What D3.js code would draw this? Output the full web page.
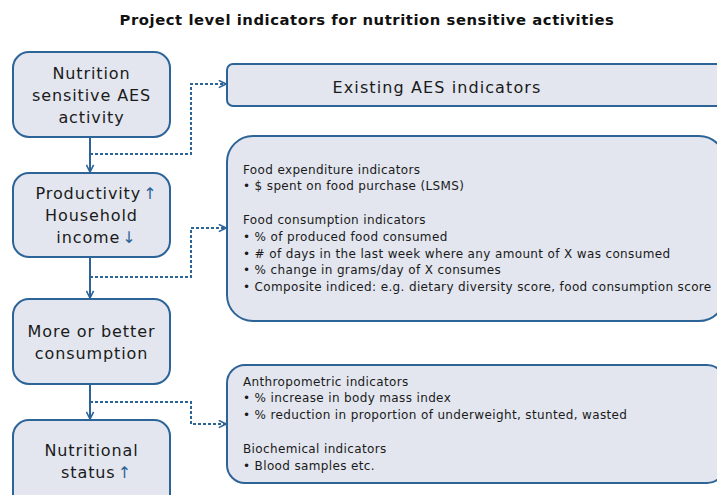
<!DOCTYPE html>
<html>
<head>
<meta charset="utf-8">
<script src="https://cdn.jsdelivr.net/npm/d3@7"></script>
<style>
  html, body { margin: 0; padding: 0; background: #fff; }
  svg { display: block; }
</style>
</head>
<body>
<svg id="chart" width="717" height="495"></svg>
<script>
// ---- Data ----
const title = "Project level indicators for nutrition sensitive activities";

// Left-column chain of stages (each line: [text, arrow symbol or ""])
const stages = [
  [["Nutrition", ""], ["sensitive AES", ""], ["activity", ""]],
  [["Productivity", "↑"], ["Household", ""], ["income", "↓"]],
  [["More or better", ""], ["consumption", ""]],
  [["Nutritional", ""], ["status", "↑"]]
];

// Right-column indicator boxes
const existingLabel = "Existing AES indicators";

const consumptionLines = [
  "Food expenditure indicators",
  "• $ spent on food purchase (LSMS)",
  "",
  "Food consumption indicators",
  "• % of produced food consumed",
  "• # of days in the last week where any amount of X was consumed",
  "• % change in grams/day of X consumes",
  "• Composite indiced: e.g. dietary diversity score, food consumption score"
];

const statusLines = [
  "Anthropometric indicators",
  "• % increase in body mass index",
  "• % reduction in proportion of underweight, stunted, wasted",
  "",
  "Biochemical indicators",
  "• Blood samples etc."
];

// ---- Layout / style ----
const stroke = "#2d6497";
const fill = "#e3e6ef";
const font = "'DejaVu Sans', sans-serif";

const svg = d3.select("#chart");

const defs = svg.append("defs");
defs.append("marker")
  .attr("id", "chev")
  .attr("viewBox", "0 0 10 10")
  .attr("refX", 9).attr("refY", 5)
  .attr("markerWidth", 9).attr("markerHeight", 9)
  .attr("markerUnits", "userSpaceOnUse")
  .attr("orient", "auto")
  .append("path")
  .attr("d", "M1,1 L9,5 L1,9")
  .attr("fill", "none")
  .attr("stroke", stroke)
  .attr("stroke-width", 1.8);

// title
svg.append("text")
  .attr("x", 367).attr("y", 25)
  .attr("text-anchor", "middle")
  .attr("font-family", font)
  .attr("font-weight", "bold")
  .attr("font-size", 14.8)
  .attr("letter-spacing", 0.55)
  .attr("fill", "#111")
  .text(title);

// left boxes geometry
const leftX = 13, leftW = 157;
const boxTops = [52, 173, 299, 420];
const boxBottoms = [137, 257, 384, 510];
const cx = 90;
const lineH = 22;

// vertical solid connectors
for (let i = 0; i < 3; i++) {
  svg.append("line")
    .attr("x1", cx).attr("x2", cx)
    .attr("y1", boxBottoms[i]).attr("y2", boxTops[i + 1] - 1)
    .attr("stroke", stroke).attr("stroke-width", 2)
    .attr("marker-end", "url(#chev)");
}

// boxes
stages.forEach((lines, i) => {
  const top = boxTops[i], bot = boxBottoms[i];
  svg.append("rect")
    .attr("x", leftX).attr("y", top)
    .attr("width", leftW).attr("height", bot - top)
    .attr("rx", 16).attr("ry", 16)
    .attr("fill", fill).attr("stroke", stroke).attr("stroke-width", 2);
  const mid = i === 3 ? 461 : (top + bot) / 2;
  const y0 = mid - (lines.length - 1) * lineH / 2;
  lines.forEach((ln, j) => {
    const t = svg.append("text")
      .attr("x", leftX + leftW / 2 + (ln[1] ? 5 : 0))
      .attr("y", y0 + j * lineH + 6)
      .attr("text-anchor", "middle")
      .attr("font-family", font)
      .attr("font-size", 16)
      .attr("letter-spacing", 0.9)
      .attr("fill", "#1a1a1a");
    t.append("tspan").text(ln[0]);
    if (ln[1]) {
      t.append("tspan").attr("fill", stroke).attr("dx", 2).text(ln[1]);
    }
  });
});

// right boxes
const rx = 227;
const rightBoxes = [
  { top: 64, bot: 106, r: 6 },
  { top: 136, bot: 321, r: 26 },
  { top: 365, bot: 483, r: 18 }
];
rightBoxes.forEach(b => {
  svg.append("rect")
    .attr("x", rx).attr("y", b.top)
    .attr("width", 725 - rx).attr("height", b.bot - b.top)
    .attr("rx", b.r).attr("ry", b.r)
    .attr("fill", fill).attr("stroke", stroke).attr("stroke-width", 2);
});

// dotted connectors: [branch y, target y]
const dotted = [[154, 84], [277, 228], [402, 424]];
const dx = 191;
dotted.forEach(d => {
  svg.append("path")
    .attr("d", `M${cx},${d[0]} H${dx} V${d[1]} H${rx - 1}`)
    .attr("fill", "none")
    .attr("stroke", stroke).attr("stroke-width", 2)
    .attr("stroke-dasharray", "3,2")
    .attr("marker-end", "url(#chev)");
});

// existing label
svg.append("text")
  .attr("x", 437).attr("y", 93)
  .attr("text-anchor", "middle")
  .attr("font-family", font)
  .attr("font-size", 16)
  .attr("letter-spacing", 1.1)
  .attr("fill", "#1a1a1a")
  .text(existingLabel);

function listText(lines, y0, step) {
  lines.forEach((ln, i) => {
    if (!ln) return;
    svg.append("text")
      .attr("x", 243).attr("y", y0 + i * step)
      .attr("font-family", font)
      .attr("font-size", 12)
      .attr("letter-spacing", 0.36)
      .attr("fill", "#1a1a1a")
      .text(ln);
  });
}
listText(consumptionLines, 173.5, 16.8);
listText(statusLines, 385.5, 16.9);
</script>
</body>
</html>
